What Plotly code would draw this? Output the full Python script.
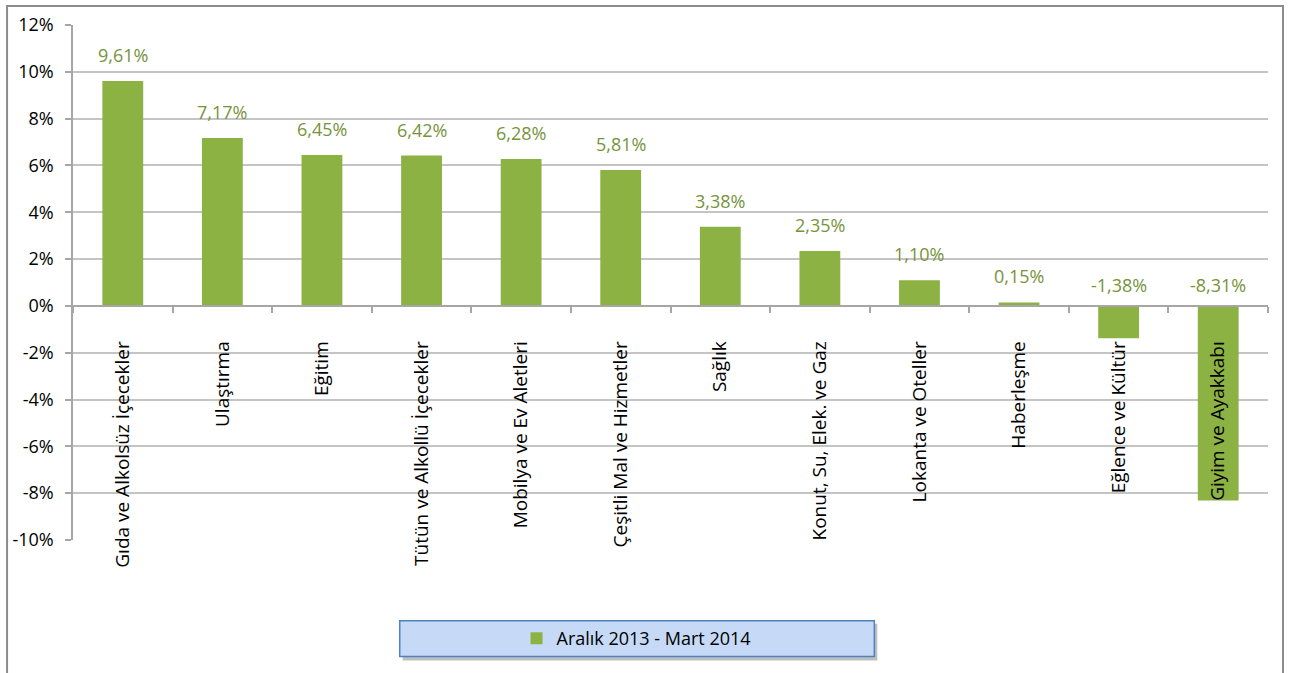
import plotly.graph_objects as go

categories = ["Gıda ve Alkolsüz İçecekler", "Ulaştırma", "Eğitim", "Tütün ve Alkollü İçecekler",
              "Mobilya ve Ev Aletleri", "Çeşitli Mal ve Hizmetler", "Sağlık", "Konut, Su, Elek. ve Gaz",
              "Lokanta ve Oteller", "Haberleşme", "Eğlence ve Kültür", "Giyim ve Ayakkabı"]
values = [9.61, 7.17, 6.45, 6.42, 6.28, 5.81, 3.38, 2.35, 1.10, 0.15, -1.38, -8.31]
series_name = "Aralık 2013 - Mart 2014"
y_ticks = list(range(-10, 13, 2))
y_ticktext = [f"{v}%" for v in y_ticks]

W, H = 1293, 673
L, R, T, B = 72, 25, 23, 133
PW, PH = W - L - R, H - T - B
YMIN, YMAX = -10, 12

def px_x(x):
    return (x - L) / PW

def px_y(y):
    return (H - B - y) / PH

FONT = "Open Sans"
GREEN_TXT = "#77933C"

fig = go.Figure()
fig.add_trace(go.Bar(
    x=categories, y=values, name=series_name,
    marker=dict(color="#8CB244", line=dict(width=0)),
))

annotations = []
for c, v in zip(categories, values):
    annotations.append(dict(
        x=c, y=max(v, 0), xref="x", yref="y",
        text=f"{v:.2f}".replace(".", ",") + "%",
        showarrow=False, yanchor="middle",
        yshift=26 if v >= 0 else 21,
        font=dict(family=FONT, size=18, color=GREEN_TXT),
    ))

zero_pos = (0 - YMIN) / (YMAX - YMIN)

fig.update_layout(
    width=W, height=H,
    margin=dict(l=L, r=R, t=T, b=B),
    plot_bgcolor="white", paper_bgcolor="white",
    bargap=0.59,
    showlegend=True,
    legend=dict(orientation="h", x=px_x(636), y=px_y(639), xanchor="center", yanchor="middle",
                bgcolor="rgba(0,0,0,0)", font=dict(family=FONT, size=18, color="black"),
                itemwidth=30),
    annotations=annotations,
    xaxis=dict(
        anchor="free", position=zero_pos,
        showline=True, linecolor="#A6A6A6", linewidth=1.5,
        ticks="outside", tickson="boundaries", ticklen=6, tickcolor="#A6A6A6", tickwidth=1.5,
        tickangle=-90, ticklabelstandoff=27,
        tickfont=dict(family=FONT, size=19, color="black"),
        showgrid=False, layer="above traces",
    ),
    yaxis=dict(
        range=[YMIN, YMAX], tickvals=y_ticks, ticktext=y_ticktext,
        showgrid=True, gridcolor="#C4C4C4", gridwidth=2,
        zeroline=False,
        showline=True, linecolor="#A6A6A6", linewidth=1.5,
        ticks="outside", ticklen=6, tickcolor="#A6A6A6", tickwidth=1.5,
        tickfont=dict(family=FONT, size=18, color="black"),
        ticklabelstandoff=8,
    ),
    shapes=[
        dict(type="rect", xref="paper", yref="paper",
             x0=px_x(6), x1=px_x(1283), y0=px_y(700), y1=px_y(4),
             line=dict(color="#8C8C8C", width=2), fillcolor="rgba(0,0,0,0)", layer="below"),
        dict(type="rect", xref="paper", yref="paper",
             x0=px_x(402), x1=px_x(877), y0=px_y(661), y1=px_y(624),
             line=dict(width=0), fillcolor="rgba(0,0,0,0.25)", layer="below"),
        dict(type="rect", xref="paper", yref="paper",
             x0=px_x(399), x1=px_x(874), y0=px_y(657), y1=px_y(621),
             line=dict(color="#4F81BD", width=1.5), fillcolor="#C6DAF7", layer="below"),
    ],
)

fig.write_html("out.html", config={"displayModeBar": False},
               post_script="document.body.style.margin='0';document.body.style.overflow='hidden';")
